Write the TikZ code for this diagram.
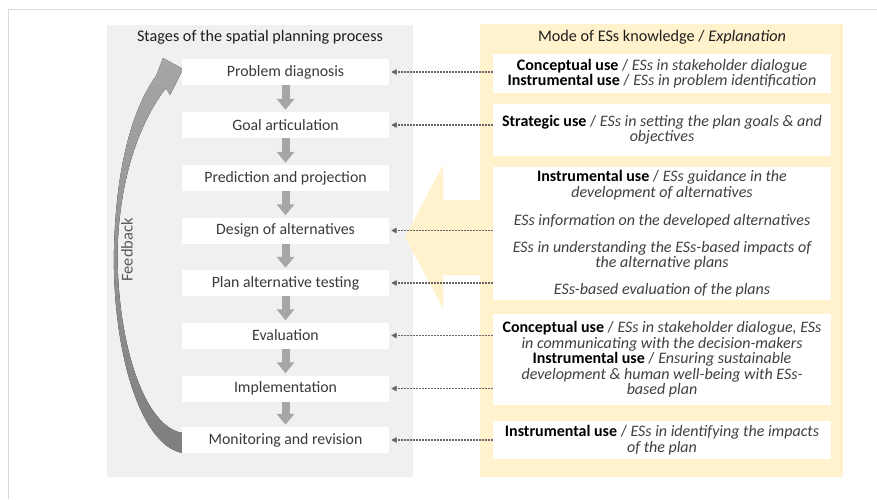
\documentclass[tikz,border=0pt]{standalone}
\usepackage{fontspec}
\setmainfont{Carlito}
\usetikzlibrary{arrows.meta}

\definecolor{panelgray}{HTML}{F0F0F0}
\definecolor{panelgold}{HTML}{FFF2CC}
\definecolor{framegray}{HTML}{D9D9D9}
\definecolor{stagetext}{HTML}{3A3A3A}
\definecolor{slashtext}{HTML}{404040}
\definecolor{arrowgray}{HTML}{A6A6A6}
\definecolor{dotgray}{HTML}{666666}
\definecolor{feedtop}{HTML}{A6A6A6}
\definecolor{feedbot}{HTML}{7F7F7F}

% bold mode of use, then its explanation in italics
\newcommand\esmode[2]{{\bfseries #1} {\color{slashtext}/ \itshape #2}}
\newcommand\esnote[1]{{\color{slashtext}\itshape #1}}

\begin{document}
\begin{tikzpicture}[x=1pt,y=-1pt,
  stagebox/.style={fill=white, minimum width=207pt, minimum height=26pt,
    inner sep=0pt, text=stagetext, font=\fontsize{15.8}{18}\selectfont},
  usebox/.style={fill=white, minimum width=338pt, inner sep=0pt,
    align=center, font=\fontsize{16}{15.5}\selectfont},
  flowarrow/.style={draw=arrowgray, line width=8pt,
    -{Triangle[length=11pt,width=17pt]}, shorten >=2pt},
  linkarrow/.style={draw=dotgray, line width=1.6pt,
    dash pattern=on 1.5pt off 1.5pt,
    -{Triangle[length=5.5pt,width=5.5pt]}, shorten >=2pt},
  paneltitle/.style={font=\fontsize{16.2}{18}\selectfont, text=black!88}]

\useasboundingbox (0,0) rectangle (877,499);
\fill[white] (0,0) rectangle (877,499);

% page frame
\draw[framegray, line width=1pt] (8,499) -- (8,9) -- (877,9);

% the two panels
\fill[panelgray] (107,25) rectangle (413,477);
\fill[panelgold] (480,24) rectangle (843,477);

% broad arrow from the knowledge panel towards the design stages
\fill[panelgold] (405,237) -- (443,165) -- (443,200) -- (481,200)
  -- (481,275) -- (443,275) -- (443,308) -- cycle;

% feedback loop from monitoring back to problem diagnosis
\fill[top color=feedtop, bottom color=feedbot]
  (183,453) .. controls (140,446) and (112,350) .. (114,250)
  .. controls (116,160) and (135,105) .. (156,76)
  -- (163,58) -- (183,69) -- (170,95) -- (166,88)
  .. controls (143,118) and (120,170) .. (117.5,250)
  .. controls (117,345) and (145,428) .. (183,433) -- cycle;
\node[rotate=90, text=black!65, font=\fontsize{16.5}{20}\selectfont] (fb) at (127,250) {Feedback};

% panel titles
\node[paneltitle] (t1) at (260,37) {Stages of the spatial planning process};
\node[paneltitle] (t2) at (662,37) {Mode of ESs knowledge / \textit{Explanation}};

% planning stages
\node[stagebox] (s1) at (285.5,72)    {Problem diagnosis};
\node[stagebox] (s2) at (285.5,125)   {Goal articulation};
\node[stagebox] (s3) at (285.5,178)   {Prediction and projection};
\node[stagebox] (s4) at (285.5,230.5) {Design of alternatives};
\node[stagebox] (s5) at (285.5,283)   {Plan alternative testing};
\node[stagebox] (s6) at (285.5,335.5) {Evaluation};
\node[stagebox] (s7) at (285.5,388.5) {Implementation};
\node[stagebox] (s8) at (285.5,440)   {Monitoring and revision};

\foreach \a/\b in {s1/s2,s2/s3,s3/s4,s4/s5,s5/s6,s6/s7,s7/s8}
  \draw[flowarrow] (\a.south) -- (\b.north);

% knowledge boxes
\node[usebox, minimum height=39pt] (r1) at (662,73.5)
  {\esmode{Conceptual use}{ESs in stakeholder dialogue}\\
   \esmode{Instrumental use}{ESs in problem identification}};
\node[usebox, minimum height=52pt] (r2) at (662,130)
  {\esmode{Strategic use}{ESs in setting the plan goals \& and}\\
   \esnote{objectives}};
\node[usebox, minimum height=133pt] (r3) at (662,233.5)
  {\esmode{Instrumental use}{ESs guidance in the}\\
   \esnote{development of alternatives}\\[13pt]
   \esnote{ESs information on the developed alternatives}\\[11pt]
   \esnote{ESs in understanding the ESs-based impacts of}\\
   \esnote{the alternative plans}\\[11pt]
   \esnote{ESs-based evaluation of the plans}};
\node[usebox, minimum height=91pt] (r4) at (662,359.5)
  {\esmode{Conceptual use}{ESs in stakeholder dialogue, ESs}\\
   \esnote{in communicating with the decision-makers}\\
   \esmode{Instrumental use}{Ensuring sustainable}\\
   \esnote{development \& human well-being with ESs-}\\
   \esnote{based plan}};
\node[usebox, minimum height=38pt] (r5) at (662,440)
  {\esmode{Instrumental use}{ESs in identifying the impacts}\\
   \esnote{of the plan}};

% dotted links from knowledge to stages
\draw[linkarrow] (r1.west |- s1.east) -- (s1.east);
\draw[linkarrow] (r2.west |- s2.east) -- (s2.east);
\draw[linkarrow] (r3.west |- s4.east) -- (s4.east);
\draw[linkarrow] (r3.west |- s5.east) -- (s5.east);
\draw[linkarrow] (r4.west |- s6.east) -- (s6.east);
\draw[linkarrow] (r4.west |- s7.east) -- (s7.east);
\draw[linkarrow] (r5.west |- s8.east) -- (s8.east);

\end{tikzpicture}
\end{document}
